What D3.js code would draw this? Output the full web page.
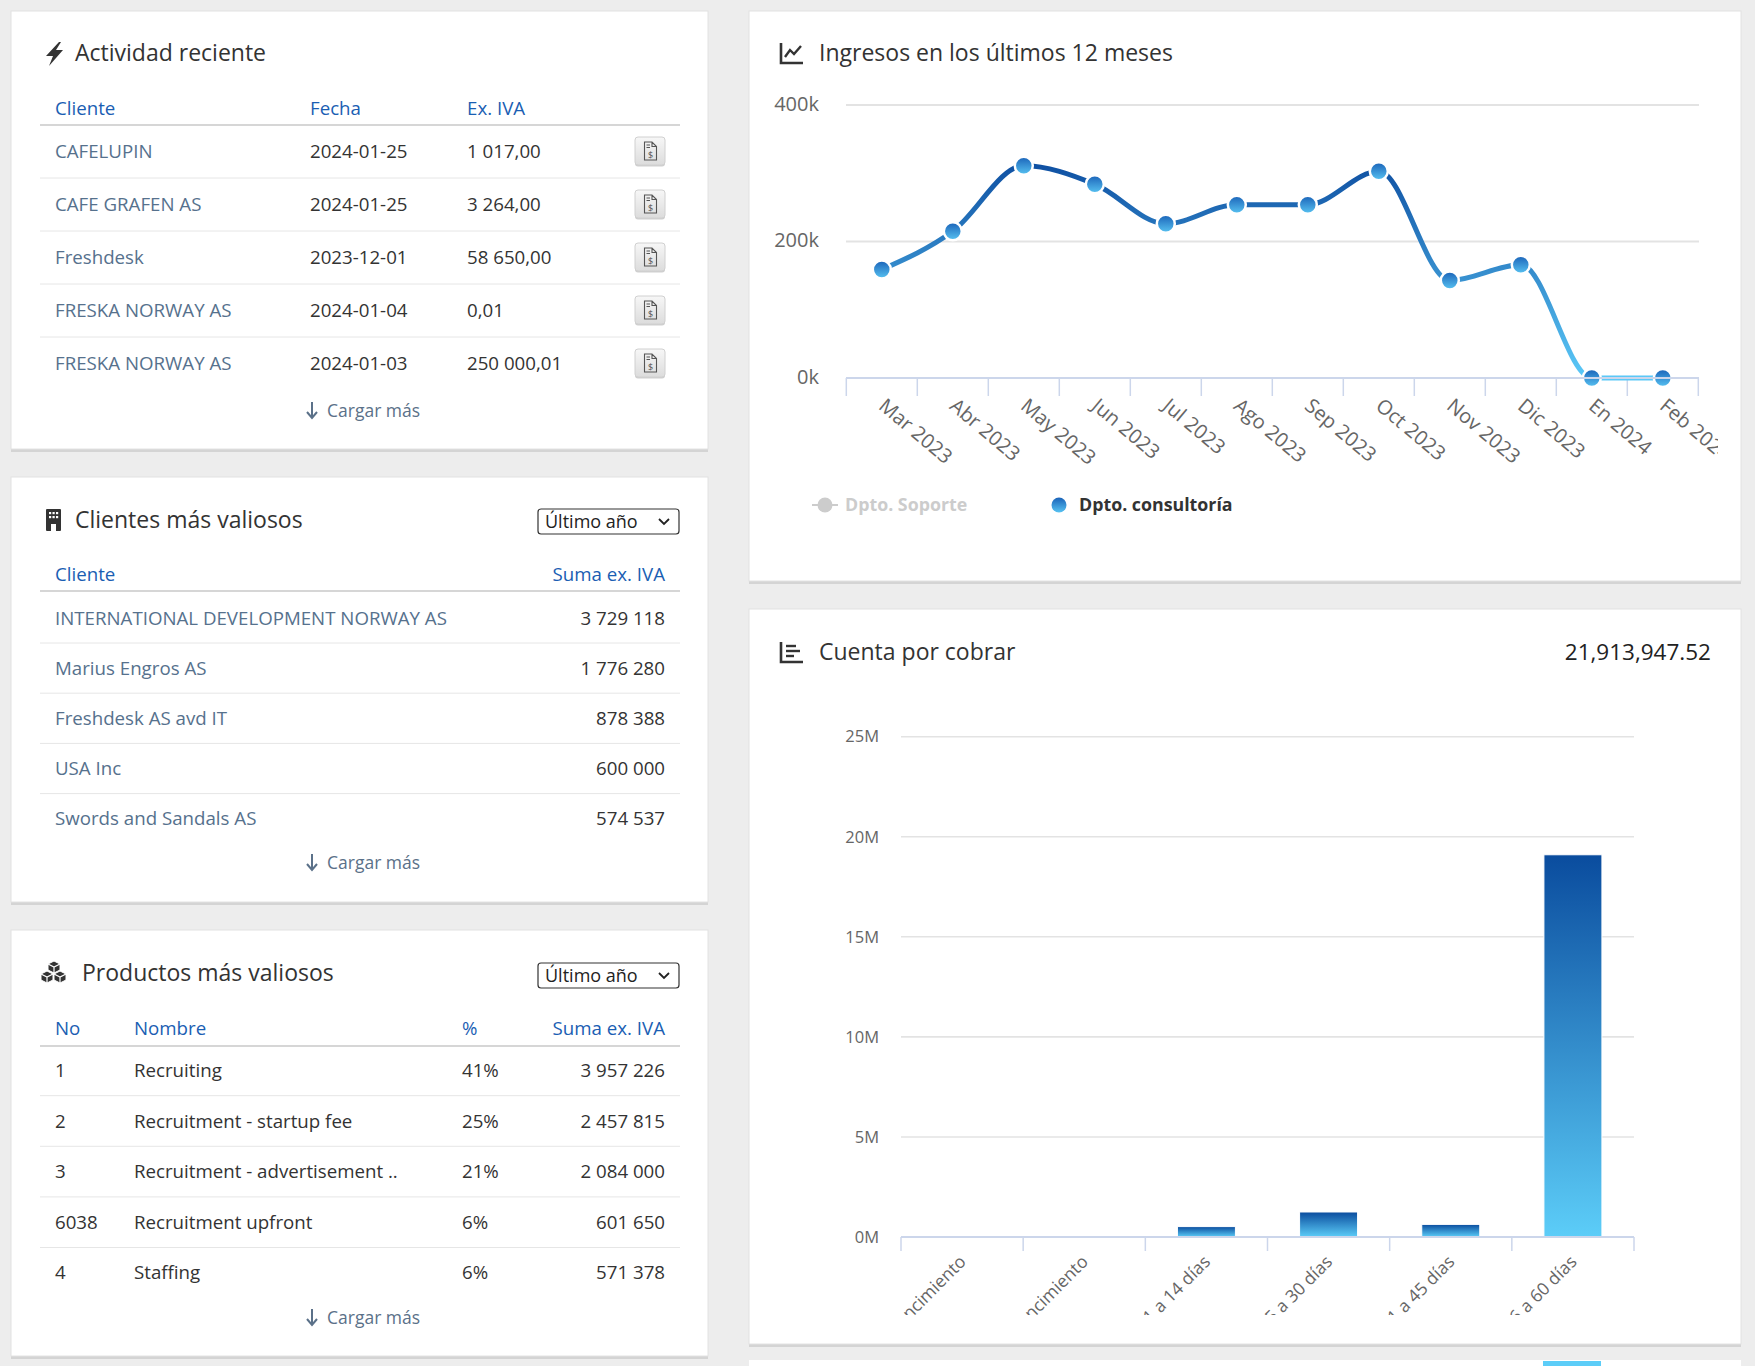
<!DOCTYPE html>
<html>
<head>
<meta charset="utf-8">
<script src="https://cdn.jsdelivr.net/npm/d3@7"></script>
<style>
  body { margin: 0; background: #ededed; }
  svg text { font-family: "Open Sans", sans-serif; }
</style>
</head>
<body>
<svg id="dash" width="1755" height="1366"></svg>
<script>
// ---- data ----
const actividadClientes = ["CAFELUPIN", "CAFE GRAFEN AS", "Freshdesk", "FRESKA NORWAY AS", "FRESKA NORWAY AS"];
const actividadFechas = ["2024-01-25", "2024-01-25", "2023-12-01", "2024-01-04", "2024-01-03"];
const actividadImportes = ["1 017,00", "3 264,00", "58 650,00", "0,01", "250 000,01"];

const clientesNombres = ["INTERNATIONAL DEVELOPMENT NORWAY AS", "Marius Engros AS", "Freshdesk AS avd IT", "USA Inc", "Swords and Sandals AS"];
const clientesSumas = [3729118, 1776280, 878388, 600000, 574537];

const productosNo = ["1", "2", "3", "6038", "4"];
const productosNombres = ["Recruiting", "Recruitment - startup fee", "Recruitment - advertisement ..", "Recruitment upfront", "Staffing"];
const productosPct = [41, 25, 21, 6, 6];
const productosSumas = [3957226, 2457815, 2084000, 601650, 571378];

const meses = ["Mar 2023", "Abr 2023", "May 2023", "Jun 2023", "Jul 2023", "Ago 2023", "Sep 2023", "Oct 2023", "Nov 2023", "Dic 2023", "En 2024", "Feb 2024"];
const ingresos = [159000, 215000, 311000, 284000, 226000, 254000, 254000, 303000, 143000, 166000, 0, 0];
const ingresosTicks = [0, 200000, 400000];
const seriesNombres = ["Dpto. Soporte", "Dpto. consultoría"];

const cobrarCategorias = ["Antes del vencimiento", "Después del vencimiento", "1 a 14 días", "15 a 30 días", "31 a 45 días", "46 a 60 días"];
const cobrarValores = [0, 0, 520000, 1250000, 630000, 19100000];
const cobrarTicks = [0, 5000000, 10000000, 15000000, 20000000, 25000000];
const cobrarTotal = "21,913,947.52";

// ---- helpers ----
var svg = d3.select("#dash");
var defs = svg.append("defs");
var fmt = n => d3.format(",")(n).replace(/,/g, " ");

var HEAD = "#1a5eb3", NAME = "#56718d", TXT = "#333", LINK = "#5b7189";

function grad(id, top, bottom, units, y1, y2) {
  var g = defs.append("linearGradient").attr("id", id)
    .attr("x1", 0).attr("x2", 0);
  if (units) {
    g.attr("gradientUnits", "userSpaceOnUse").attr("y1", y1).attr("y2", y2);
  } else {
    g.attr("y1", 0).attr("y2", 1);
  }
  g.append("stop").attr("offset", "0%").attr("stop-color", top);
  g.append("stop").attr("offset", "100%").attr("stop-color", bottom);
}
grad("markGrad", "#1a62b8", "#58c3f2");
grad("barGrad", "#0a4c9e", "#5ccdf8");
grad("btnGrad", "#f7f7f7", "#dcdcdc");

function panel(x, y, w, h) {
  svg.append("rect").attr("x", x).attr("y", y + 3).attr("width", w).attr("height", h)
    .attr("fill", "#d4d4d4");
  svg.append("rect").attr("x", x).attr("y", y).attr("width", w).attr("height", h)
    .attr("fill", "#fff").attr("stroke", "#e2e2e2").attr("stroke-width", 1);
}

function title(x, cy, label) {
  svg.append("text").attr("x", x).attr("y", cy + 8).attr("font-size", 23)
    .attr("fill", TXT).text(label);
}

function cell(x, cy, label, color, anchor) {
  svg.append("text").attr("x", x).attr("y", cy + 6.5).attr("font-size", 18.7)
    .attr("fill", color).attr("text-anchor", anchor || "start").text(label);
}

function hline(x1, x2, y, color, w) {
  svg.append("line").attr("x1", x1).attr("x2", x2).attr("y1", y).attr("y2", y)
    .attr("stroke", color).attr("stroke-width", w || 1);
}

function cargarMas(cy) {
  var g = svg.append("g").attr("transform", "translate(312," + cy + ")");
  g.append("path").attr("d", "M0,-8 V7 M-5,2 L0,8 L5,2")
    .attr("stroke", LINK).attr("stroke-width", 2).attr("fill", "none");
  g.append("text").attr("x", 15).attr("y", 6.5).attr("font-size", 17.5)
    .attr("fill", LINK).text("Cargar más");
}

function selectBox(y) {
  svg.append("rect").attr("x", 538).attr("y", y).attr("width", 141).attr("height", 25)
    .attr("rx", 3).attr("fill", "#fff").attr("stroke", "#333").attr("stroke-width", 1.2);
  svg.append("text").attr("x", 545).attr("y", y + 19).attr("font-size", 18)
    .attr("fill", "#222").text("Último año");
  svg.append("path").attr("d", "M" + 659 + "," + (y + 10) + " l5,5 l5,-5")
    .attr("stroke", "#222").attr("stroke-width", 1.8).attr("fill", "none");
}

// ---- panels ----
panel(11, 11, 697, 438);
panel(11, 477, 697, 425);
panel(11, 930, 697, 426);
panel(749, 11, 992, 570);
panel(749, 609, 992, 735);
svg.append("rect").attr("x", 749).attr("y", 1360).attr("width", 992).attr("height", 10).attr("fill", "#fff");
svg.append("rect").attr("x", 1543).attr("y", 1361).attr("width", 58).attr("height", 8).attr("fill", "#5ccdf8");

// ---- icons ----
svg.append("path").attr("d", "M59,42 L46,56 L53,56 L49,66 L63,50 L56,50 L61,42 Z").attr("fill", "#333");

var bld = svg.append("g").attr("transform", "translate(46,509)");
bld.append("rect").attr("width", 15).attr("height", 22).attr("rx", 1).attr("fill", "#333");
[[3, 3], [6.5, 3], [10, 3], [3, 7], [6.5, 7], [10, 7]].forEach(p => {
  bld.append("rect").attr("x", p[0]).attr("y", p[1]).attr("width", 2.2).attr("height", 2.2).attr("fill", "#fff");
});
bld.append("rect").attr("x", 5).attr("y", 15).attr("width", 5).attr("height", 7).attr("fill", "#fff");

var cubes = svg.append("g").attr("transform", "translate(41,961)");
[[7, 0], [0, 10], [13, 10]].forEach(p => {
  var c = cubes.append("g").attr("transform", "translate(" + p[0] + "," + p[1] + ")");
  c.append("path").attr("d", "M6,0 L12,3 L12,9 L6,12 L0,9 L0,3 Z").attr("fill", "#333").attr("stroke", "#fff").attr("stroke-width", 1);
  c.append("path").attr("d", "M0,3 L6,6 L12,3 M6,6 L6,12").attr("stroke", "#fff").attr("stroke-width", 1.2).attr("fill", "none");
});

svg.append("path").attr("d", "M781,43 V63 H803").attr("stroke", "#333").attr("stroke-width", 2.6).attr("fill", "none");
svg.append("path").attr("d", "M785,57 L790,50 L794,54 L801,46").attr("stroke", "#333").attr("stroke-width", 2.4).attr("fill", "none");

svg.append("path").attr("d", "M781,642 V662 H803").attr("stroke", "#333").attr("stroke-width", 2.6).attr("fill", "none");
[[646, 10], [651, 14], [656, 8]].forEach(p => {
  hline(786, 786 + p[1], p[0], "#333", 2.4);
});

// ---- Actividad reciente ----
title(75, 53, "Actividad reciente");
cell(55, 108, "Cliente", HEAD);
cell(310, 108, "Fecha", HEAD);
cell(467, 108, "Ex. IVA", HEAD);
hline(40, 680, 125, "#c8c8c8", 1.6);
var actY = d3.scaleLinear().domain([0, 1]).range([151, 204]);
actividadClientes.forEach((c, i) => {
  var cy = actY(i);
  cell(55, cy, c, NAME);
  cell(310, cy, actividadFechas[i], TXT);
  cell(467, cy, actividadImportes[i], TXT);
  var b = svg.append("g").attr("transform", "translate(635," + (cy - 14) + ")");
  b.append("rect").attr("y", 1.5).attr("width", 30).attr("height", 28).attr("rx", 3).attr("fill", "#cfcfcf");
  b.append("rect").attr("width", 30).attr("height", 28).attr("rx", 3).attr("fill", "url(#btnGrad)").attr("stroke", "#d0d0d0");
  b.append("path").attr("d", "M9.5,5 H17 L21.5,9.5 V23 H9.5 Z M17,5 V9.5 H21.5 M11.5,8 H15 M11.5,10.5 H15")
    .attr("fill", "none").attr("stroke", "#555").attr("stroke-width", 1.1);
  b.append("text").attr("x", 15.5).attr("y", 21).attr("font-size", 9).attr("text-anchor", "middle").attr("fill", "#555").text("$");
  if (i < actividadClientes.length - 1) hline(40, 680, cy + 27, "#e6e6e6", 1);
});
cargarMas(410);

// ---- Clientes más valiosos ----
title(75, 520, "Clientes más valiosos");
selectBox(509);
cell(55, 574, "Cliente", HEAD);
cell(665, 574, "Suma ex. IVA", HEAD, "end");
hline(40, 680, 591, "#c8c8c8", 1.6);
var cliY = d3.scaleLinear().domain([0, 1]).range([618, 668.2]);
clientesNombres.forEach((c, i) => {
  var cy = cliY(i);
  cell(55, cy, c, NAME);
  cell(665, cy, fmt(clientesSumas[i]), TXT, "end");
  if (i < clientesNombres.length - 1) hline(40, 680, cy + 25, "#e6e6e6", 1);
});
cargarMas(862);

// ---- Productos más valiosos ----
title(82, 973, "Productos más valiosos");
selectBox(963);
cell(55, 1028, "No", HEAD);
cell(134, 1028, "Nombre", HEAD);
cell(462, 1028, "%", HEAD);
cell(665, 1028, "Suma ex. IVA", HEAD, "end");
hline(40, 680, 1046, "#c8c8c8", 1.6);
var proY = d3.scaleLinear().domain([0, 1]).range([1070.4, 1121]);
productosNombres.forEach((p, i) => {
  var cy = proY(i);
  cell(55, cy, productosNo[i], TXT);
  cell(134, cy, p, TXT);
  cell(462, cy, productosPct[i] + "%", TXT);
  cell(665, cy, fmt(productosSumas[i]), TXT, "end");
  if (i < productosNombres.length - 1) hline(40, 680, cy + 25.3, "#e6e6e6", 1);
});
cargarMas(1317);

// ---- Ingresos en los últimos 12 meses ----
title(819, 53, "Ingresos en los últimos 12 meses");
var lx = d3.scaleBand().domain(meses).range([846.3, 1698.3]);
var ly = d3.scaleLinear().domain([0, 400000]).range([378, 105]);
grad("lineGrad", "#0b4a9e", "#5bc9f8", true, ly(330000), ly(0));

var lc = svg.append("g");
lc.selectAll(".grid").data(ingresosTicks.filter(t => t > 0)).enter().append("line")
  .attr("x1", 846).attr("x2", 1699).attr("y1", d => ly(d)).attr("y2", d => ly(d))
  .attr("stroke", "#e3e3e3").attr("stroke-width", 2);
var yAx = lc.append("g").attr("transform", "translate(846,0)")
  .call(d3.axisLeft(ly).tickValues(ingresosTicks).tickFormat(d => d / 1000 + "k").tickSize(0).tickPadding(27));
yAx.select(".domain").remove();
yAx.selectAll("text").attr("font-size", 20).attr("fill", "#666").attr("font-family", "Open Sans").attr("dy", "0.25em");

var bounds = d3.range(meses.length + 1).map(i => lx.range()[0] + i * lx.step());
lc.selectAll(".tick-x").data(bounds).enter().append("line")
  .attr("x1", d => d).attr("x2", d => d).attr("y1", ly(0)).attr("y2", ly(0) + 18)
  .attr("stroke", "#ccd6eb").attr("stroke-width", 1.5);
hline(846, 1699, ly(0), "#ccd6eb", 2);

defs.append("clipPath").attr("id", "lineClip").append("rect")
  .attr("x", 760).attr("y", 380).attr("width", 958).attr("height", 100);
lc.append("g").attr("clip-path", "url(#lineClip)")
  .selectAll("text").data(meses).enter().append("text")
  .attr("transform", d => "translate(" + (lx(d) + lx.bandwidth() / 2 + 5) + ",397) rotate(40)")
  .attr("dy", "0.72em").attr("font-size", 20).attr("fill", "#666").text(d => d);

var mx = (d, i) => lx(meses[i]) + lx.bandwidth() / 2;
lc.append("path").datum(ingresos)
  .attr("d", d3.line().x(mx).y(d => ly(d)).curve(d3.curveMonotoneX))
  .attr("fill", "none").attr("stroke", "url(#lineGrad)").attr("stroke-width", 5);
lc.selectAll(".pt").data(ingresos).enter().append("circle")
  .attr("cx", mx).attr("cy", d => ly(d)).attr("r", 9)
  .attr("fill", "url(#markGrad)").attr("stroke", "#fff").attr("stroke-width", 2.5);

// legend
hline(812, 838, 505, "#cccccc", 2);
svg.append("circle").attr("cx", 825).attr("cy", 505).attr("r", 7.5).attr("fill", "#cccccc");
svg.append("text").attr("x", 845).attr("y", 511).attr("font-size", 17.8).attr("font-weight", "bold")
  .attr("fill", "#cccccc").text(seriesNombres[0]);
svg.append("circle").attr("cx", 1059).attr("cy", 505).attr("r", 7.5).attr("fill", "url(#markGrad)");
svg.append("text").attr("x", 1079).attr("y", 511).attr("font-size", 17.8).attr("font-weight", "bold")
  .attr("fill", "#333").text(seriesNombres[1]);

// ---- Cuenta por cobrar ----
title(819, 652, "Cuenta por cobrar");
svg.append("text").attr("x", 1711).attr("y", 660).attr("font-size", 22.5).attr("text-anchor", "end")
  .attr("fill", "#222").text(cobrarTotal);

var bx = d3.scaleBand().domain(cobrarCategorias).range([901, 1634]);
var by = d3.scaleLinear().domain([0, 25000000]).range([1237, 736.7]);
var bc = svg.append("g");
bc.selectAll(".grid").data(cobrarTicks.filter(t => t > 0)).enter().append("line")
  .attr("x1", 901).attr("x2", 1634).attr("y1", d => by(d)).attr("y2", d => by(d))
  .attr("stroke", "#e3e3e3").attr("stroke-width", 1.6);
var byAx = bc.append("g").attr("transform", "translate(901,0)")
  .call(d3.axisLeft(by).tickValues(cobrarTicks).tickFormat(d => d / 1000000 + "M").tickSize(0).tickPadding(22));
byAx.select(".domain").remove();
byAx.selectAll("text").attr("font-size", 16.5).attr("fill", "#666").attr("font-family", "Open Sans");

var barW = 58;
bc.selectAll(".bar").data(cobrarValores).enter().append("rect")
  .attr("x", (d, i) => bx(cobrarCategorias[i]) + (bx.bandwidth() - barW) / 2)
  .attr("y", d => by(d)).attr("width", barW).attr("height", d => by(0) - by(d))
  .attr("fill", "url(#barGrad)").attr("stroke", "#fff").attr("stroke-width", 1);

var bBounds = d3.range(cobrarCategorias.length + 1).map(i => bx.range()[0] + i * bx.step());
bc.selectAll(".tick-x").data(bBounds).enter().append("line")
  .attr("x1", d => d).attr("x2", d => d).attr("y1", by(0)).attr("y2", by(0) + 14)
  .attr("stroke", "#ccd6eb").attr("stroke-width", 1.5);
hline(901, 1634, by(0), "#ccd6eb", 2);

defs.append("clipPath").attr("id", "barClip").append("rect")
  .attr("x", 760).attr("y", 1240).attr("width", 960).attr("height", 75);
bc.append("g").attr("clip-path", "url(#barClip)")
  .selectAll("text").data(cobrarCategorias).enter().append("text")
  .attr("transform", d => "translate(" + (bx(d) + bx.bandwidth() / 2 - 4) + ",1254) rotate(-45)")
  .attr("dy", "0.72em").attr("text-anchor", "end").attr("font-size", 17.5).attr("fill", "#666").text(d => d);
</script>
</body>
</html>
